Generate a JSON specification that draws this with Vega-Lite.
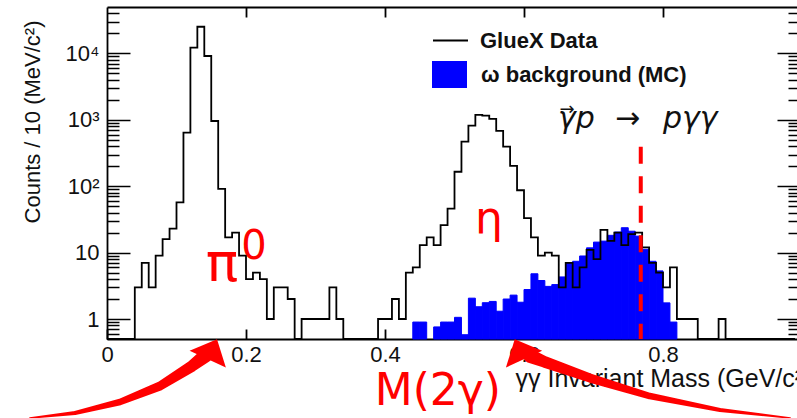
{
  "$schema": "https://vega.github.io/schema/vega-lite/v6.json",
  "width": 690,
  "height": 332,
  "autosize": {"type": "none"},
  "padding": {"left": 107, "top": 7, "right": 0, "bottom": 79},
  "background": "white",
  "config": {
    "view": {"stroke": null},
    "font": "Liberation Sans",
    "axis": {"grid": false, "labelFont": "Liberation Sans", "titleFont": "Liberation Sans", "domainColor": "black", "tickColor": "black", "labelColor": "#111", "titleColor": "#111"}
  },
  "datasets": {
    "hist": [
      {"lo": 0.00, "n": 0}, {"lo": 0.01, "n": 0}, {"lo": 0.02, "n": 0}, {"lo": 0.03, "n": 0},
      {"lo": 0.04, "n": 3}, {"lo": 0.05, "n": 7}, {"lo": 0.06, "n": 3}, {"lo": 0.07, "n": 9},
      {"lo": 0.08, "n": 16}, {"lo": 0.09, "n": 23}, {"lo": 0.10, "n": 57}, {"lo": 0.11, "n": 640},
      {"lo": 0.12, "n": 12200}, {"lo": 0.13, "n": 25200}, {"lo": 0.14, "n": 9140}, {"lo": 0.15, "n": 960},
      {"lo": 0.16, "n": 91}, {"lo": 0.17, "n": 17}, {"lo": 0.18, "n": 20}, {"lo": 0.19, "n": 9},
      {"lo": 0.20, "n": 4}, {"lo": 0.21, "n": 5}, {"lo": 0.22, "n": 4}, {"lo": 0.23, "n": 1},
      {"lo": 0.24, "n": 3}, {"lo": 0.25, "n": 3}, {"lo": 0.26, "n": 2}, {"lo": 0.27, "n": 0},
      {"lo": 0.28, "n": 1}, {"lo": 0.29, "n": 1}, {"lo": 0.30, "n": 1}, {"lo": 0.31, "n": 1},
      {"lo": 0.32, "n": 3}, {"lo": 0.33, "n": 1}, {"lo": 0.34, "n": 0}, {"lo": 0.35, "n": 0},
      {"lo": 0.36, "n": 0}, {"lo": 0.37, "n": 0}, {"lo": 0.38, "n": 0}, {"lo": 0.39, "n": 1},
      {"lo": 0.40, "n": 1}, {"lo": 0.41, "n": 2}, {"lo": 0.42, "n": 1}, {"lo": 0.43, "n": 5},
      {"lo": 0.44, "n": 6}, {"lo": 0.45, "n": 13}, {"lo": 0.46, "n": 17}, {"lo": 0.47, "n": 13},
      {"lo": 0.48, "n": 26}, {"lo": 0.49, "n": 46}, {"lo": 0.50, "n": 165}, {"lo": 0.51, "n": 470},
      {"lo": 0.52, "n": 820}, {"lo": 0.53, "n": 1190}, {"lo": 0.54, "n": 1160}, {"lo": 0.55, "n": 1030},
      {"lo": 0.56, "n": 680}, {"lo": 0.57, "n": 395}, {"lo": 0.58, "n": 203}, {"lo": 0.59, "n": 87},
      {"lo": 0.60, "n": 33}, {"lo": 0.61, "n": 17}, {"lo": 0.62, "n": 9}, {"lo": 0.63, "n": 10},
      {"lo": 0.64, "n": 9}, {"lo": 0.65, "n": 3}, {"lo": 0.66, "n": 7}, {"lo": 0.67, "n": 3},
      {"lo": 0.68, "n": 6}, {"lo": 0.69, "n": 11}, {"lo": 0.70, "n": 8}, {"lo": 0.71, "n": 22},
      {"lo": 0.72, "n": 15}, {"lo": 0.73, "n": 20}, {"lo": 0.74, "n": 13}, {"lo": 0.75, "n": 19},
      {"lo": 0.76, "n": 20}, {"lo": 0.77, "n": 12}, {"lo": 0.78, "n": 7}, {"lo": 0.79, "n": 5},
      {"lo": 0.80, "n": 3}, {"lo": 0.81, "n": 6}, {"lo": 0.82, "n": 1}, {"lo": 0.83, "n": 1},
      {"lo": 0.84, "n": 1}, {"lo": 0.85, "n": 0}, {"lo": 0.86, "n": 0}, {"lo": 0.87, "n": 0},
      {"lo": 0.88, "n": 1}, {"lo": 0.89, "n": 0}, {"lo": 0.90, "n": 0}, {"lo": 0.91, "n": 0},
      {"lo": 0.92, "n": 0}, {"lo": 0.93, "n": 0}, {"lo": 0.94, "n": 0}, {"lo": 0.95, "n": 0},
      {"lo": 0.96, "n": 0}, {"lo": 0.97, "n": 0}, {"lo": 0.98, "n": 0}, {"lo": 0.99, "n": 0}
    ],
    "mc": [
      {"lo": 0.44, "hi": 0.45, "mc": 0.9}, {"lo": 0.45, "hi": 0.46, "mc": 0.9},
      {"lo": 0.47, "hi": 0.48, "mc": 0.76}, {"lo": 0.48, "hi": 0.49, "mc": 0.9},
      {"lo": 0.49, "hi": 0.50, "mc": 0.9}, {"lo": 0.50, "hi": 0.51, "mc": 1.06},
      {"lo": 0.51, "hi": 0.52, "mc": 0.58}, {"lo": 0.52, "hi": 0.53, "mc": 2.06},
      {"lo": 0.53, "hi": 0.54, "mc": 1.53}, {"lo": 0.54, "hi": 0.55, "mc": 1.76},
      {"lo": 0.55, "hi": 0.56, "mc": 1.84}, {"lo": 0.56, "hi": 0.57, "mc": 1.31},
      {"lo": 0.57, "hi": 0.58, "mc": 2.0}, {"lo": 0.58, "hi": 0.59, "mc": 2.29},
      {"lo": 0.59, "hi": 0.60, "mc": 1.79}, {"lo": 0.60, "hi": 0.61, "mc": 2.78},
      {"lo": 0.61, "hi": 0.62, "mc": 4.8}, {"lo": 0.62, "hi": 0.63, "mc": 3.8},
      {"lo": 0.63, "hi": 0.64, "mc": 3.1}, {"lo": 0.64, "hi": 0.65, "mc": 3.3},
      {"lo": 0.65, "hi": 0.66, "mc": 4.3}, {"lo": 0.66, "hi": 0.67, "mc": 7.0},
      {"lo": 0.67, "hi": 0.68, "mc": 7.4}, {"lo": 0.68, "hi": 0.69, "mc": 8.9},
      {"lo": 0.69, "hi": 0.70, "mc": 11.8}, {"lo": 0.70, "hi": 0.71, "mc": 14.4},
      {"lo": 0.71, "hi": 0.72, "mc": 14.9}, {"lo": 0.72, "hi": 0.73, "mc": 18.2},
      {"lo": 0.73, "hi": 0.74, "mc": 20.4}, {"lo": 0.74, "hi": 0.75, "mc": 23.7},
      {"lo": 0.75, "hi": 0.76, "mc": 21}, {"lo": 0.76, "hi": 0.77, "mc": 17.7},
      {"lo": 0.77, "hi": 0.78, "mc": 11.2}, {"lo": 0.78, "hi": 0.79, "mc": 7.4},
      {"lo": 0.79, "hi": 0.80, "mc": 5.3}, {"lo": 0.80, "hi": 0.81, "mc": 1.75},
      {"lo": 0.81, "hi": 0.82, "mc": 0.9}
    ],
    "arrowL": [
      {"x": -0.111, "y": 0.0323, "i": 0}, {"x": -0.046, "y": 0.0384, "i": 1},
      {"x": 0.0187, "y": 0.0562, "i": 2}, {"x": 0.0763, "y": 0.098, "i": 3},
      {"x": 0.1223, "y": 0.196, "i": 4}, {"x": 0.141, "y": 0.277, "i": 5}
    ],
    "arrowR": [
      {"x": 0.983, "y": 0.0323, "i": 0}, {"x": 0.882, "y": 0.0426, "i": 1},
      {"x": 0.781, "y": 0.0692, "i": 2}, {"x": 0.695, "y": 0.129, "i": 3},
      {"x": 0.630, "y": 0.225, "i": 4}, {"x": 0.609, "y": 0.277, "i": 5}
    ],
    "reaction": [
      {"t": "γp", "x": 0.649, "y": 753},
      {"t": "→", "x": 0.731, "y": 753},
      {"t": "pγγ", "x": 0.800, "y": 753}
    ]
  },
  "resolve": {"scale": {"y": "independent"}, "axis": {"x": "independent", "y": "independent"}},
  "layer": [
    {
      "data": {"name": "mc"},
      "mark": {"type": "rect", "stroke": "#0000ff", "strokeWidth": 1},
      "encoding": {
        "x": {"field": "lo", "type": "quantitative", "scale": {"domain": [0, 0.9928], "nice": false, "zero": false},
          "axis": {"orient": "bottom", "values": [0, 0.2, 0.4, 0.6, 0.8], "labelExpr": "datum.value == 0 ? '0' : format(datum.value, '.1f')",
            "labelFlush": false, "tickSize": -10, "tickWidth": 1.8, "domainWidth": 1.8, "labelFontSize": 22, "labelPadding": 15,
            "title": "γγ Invariant Mass (GeV/c²)", "titleFontSize": 25, "titleFontWeight": "normal",
            "titleX": 408, "titleY": 47, "titleAlign": "left", "titleBaseline": "alphabetic", "titleAnchor": "start"}},
        "x2": {"field": "hi"},
        "y": {"field": "mc", "type": "quantitative", "scale": {"type": "log", "domain": [0.5, 50000], "nice": false},
          "axis": {"orient": "left", "values": [1, 10, 100, 1000, 10000],
            "labelExpr": "datum.value == 1 ? '1' : datum.value == 10 ? '10' : datum.value == 100 ? '10²' : datum.value == 1000 ? '10³' : '10⁴'",
            "tickSize": -23, "tickWidth": 1.5, "domainWidth": 1.8, "labelFontSize": 22, "labelPadding": 31,
            "title": "Counts / 10 (MeV/c²)", "titleFontSize": 22, "titleFontWeight": "normal",
            "titleX": -75, "titleY": 13, "titleAlign": "right", "titleBaseline": "middle", "titleAngle": -90}},
        "y2": {"datum": 0.5},
        "fill": {"datum": "ω background (MC)", "type": "nominal", "scale": {"range": ["#0000ff"]},
          "legend": {"orient": "none", "legendX": 325, "legendY": 50, "title": null, "padding": 0,
            "symbolType": "M-1,-0.77H1V0.77H-1Z", "symbolSize": 1225, "symbolStrokeWidth": 0,
            "labelFontSize": 22, "labelFontWeight": "bold", "labelFont": "Liberation Sans", "labelColor": "#111", "labelOffset": 14, "labelLimit": 400}}
      }
    },
    {
      "data": {"name": "hist"},
      "mark": {"type": "line", "interpolate": "step-after", "strokeWidth": 1.8},
      "encoding": {
        "x": {"field": "lo", "type": "quantitative", "scale": {"domain": [0, 0.9928], "nice": false, "zero": false},
          "axis": {"orient": "top", "values": [0.2, 0.4, 0.6, 0.8], "labels": false, "tickSize": -10, "tickWidth": 1.8, "domainWidth": 1.8, "title": null}},
        "y": {"field": "n", "type": "quantitative", "scale": {"type": "log", "domain": [0.5, 50000], "nice": false, "clamp": true},
          "axis": {"orient": "left", "values": [0.6, 0.7, 0.8, 0.9, 2, 3, 4, 5, 6, 7, 8, 9, 20, 30, 40, 50, 60, 70, 80, 90, 200, 300, 400, 500, 600, 700, 800, 900, 2000, 3000, 4000, 5000, 6000, 7000, 8000, 9000, 20000, 30000, 40000],
            "labels": false, "domain": false, "tickSize": -12, "tickWidth": 1.5, "title": null}},
        "stroke": {"datum": "GlueX Data", "type": "nominal", "scale": {"range": ["black"]},
          "legend": {"orient": "none", "legendX": 325, "legendY": 15, "title": null, "padding": 0,
            "symbolType": "stroke", "symbolSize": 1225, "symbolStrokeWidth": 1.8, "symbolStrokeColor": "black",
            "labelFontSize": 22, "labelFontWeight": "bold", "labelFont": "Liberation Sans", "labelColor": "#111", "labelOffset": 11, "labelLimit": 400}}
      }
    },
    {
      "data": {"values": [{"m": 0.768, "top": 394, "base": 0.5}]},
      "mark": {"type": "rule", "color": "#ff0000", "strokeWidth": 4, "strokeDash": [17, 12.5]},
      "encoding": {
        "x": {"field": "m", "type": "quantitative", "scale": {"domain": [0, 0.9928], "nice": false, "zero": false}, "axis": null},
        "y": {"field": "top", "type": "quantitative", "scale": {"type": "log", "domain": [0.5, 50000], "nice": false},
          "axis": {"orient": "right", "values": [1, 10, 100, 1000, 10000], "labels": false, "domain": false, "tickSize": -20, "tickWidth": 1.5, "title": null}},
        "y2": {"field": "base"}
      }
    },
    {
      "data": {"name": "reaction"},
      "mark": {"type": "text", "font": "DejaVu Sans", "fontStyle": "italic", "fontSize": 30, "align": "left", "baseline": "alphabetic", "color": "#111"},
      "encoding": {
        "x": {"field": "x", "type": "quantitative", "scale": {"domain": [0, 0.9928], "nice": false, "zero": false}, "axis": null},
        "y": {"field": "y", "type": "quantitative", "scale": {"type": "log", "domain": [0.5, 50000], "nice": false},
          "axis": {"orient": "right", "values": [0.6, 0.7, 0.8, 0.9, 2, 3, 4, 5, 6, 7, 8, 9, 20, 30, 40, 50, 60, 70, 80, 90, 200, 300, 400, 500, 600, 700, 800, 900, 2000, 3000, 4000, 5000, 6000, 7000, 8000, 9000, 20000, 30000, 40000],
            "labels": false, "domain": false, "tickSize": -9, "tickWidth": 1.5, "title": null}},
        "text": {"field": "t"}
      }
    },
    {
      "data": {"values": [{}]},
      "mark": {"type": "text", "text": "→", "font": "DejaVu Sans", "fontSize": 18, "align": "center", "baseline": "middle", "color": "#111"},
      "encoding": {
        "x": {"datum": 0.662, "type": "quantitative", "scale": {"domain": [0, 0.9928], "nice": false, "zero": false}, "axis": null},
        "y": {"datum": 1405, "type": "quantitative", "scale": {"type": "log", "domain": [0.5, 50000], "nice": false}, "axis": null}
      }
    },
    {
      "data": {"values": [{}]},
      "mark": {"type": "text", "text": "π", "font": "DejaVu Sans", "fontSize": 54, "align": "center", "baseline": "middle", "color": "#ff0000"},
      "encoding": {
        "x": {"datum": 0.1655, "type": "quantitative", "scale": {"domain": [0, 0.9928], "nice": false, "zero": false}, "axis": null},
        "y": {"datum": 6.5, "type": "quantitative", "scale": {"type": "log", "domain": [0.5, 50000], "nice": false}, "axis": null}
      }
    },
    {
      "data": {"values": [{}]},
      "mark": {"type": "text", "text": "0", "font": "DejaVu Sans", "fontSize": 40, "align": "center", "baseline": "middle", "color": "#ff0000"},
      "encoding": {
        "x": {"datum": 0.2115, "type": "quantitative", "scale": {"domain": [0, 0.9928], "nice": false, "zero": false}, "axis": null},
        "y": {"datum": 12.1, "type": "quantitative", "scale": {"type": "log", "domain": [0.5, 50000], "nice": false}, "axis": null}
      }
    },
    {
      "data": {"values": [{}]},
      "mark": {"type": "text", "text": "η", "font": "DejaVu Sans", "fontSize": 44, "align": "center", "baseline": "middle", "color": "#ff0000"},
      "encoding": {
        "x": {"datum": 0.5496, "type": "quantitative", "scale": {"domain": [0, 0.9928], "nice": false, "zero": false}, "axis": null},
        "y": {"datum": 31, "type": "quantitative", "scale": {"type": "log", "domain": [0.5, 50000], "nice": false}, "axis": null}
      }
    },
    {
      "data": {"values": [{}]},
      "mark": {"type": "text", "text": "M(2γ)", "font": "DejaVu Sans", "fontSize": 44, "align": "center", "baseline": "middle", "color": "#ff0000"},
      "encoding": {
        "x": {"datum": 0.476, "type": "quantitative", "scale": {"domain": [0, 0.9928], "nice": false, "zero": false}, "axis": null},
        "y": {"datum": 0.079, "type": "quantitative", "scale": {"type": "log", "domain": [0.5, 50000], "nice": false}, "axis": null}
      }
    },
    {
      "data": {"name": "arrowL"},
      "mark": {"type": "trail", "color": "#ff0000"},
      "encoding": {
        "x": {"field": "x", "type": "quantitative", "scale": {"domain": [0, 0.9928], "nice": false, "zero": false}, "axis": null},
        "y": {"field": "y", "type": "quantitative", "scale": {"type": "log", "domain": [0.5, 50000], "nice": false}, "axis": null},
        "order": {"field": "i"},
        "size": {"field": "i", "type": "quantitative", "scale": {"domain": [0, 5], "range": [1.5, 14]}, "legend": null}
      }
    },
    {
      "data": {"name": "arrowR"},
      "mark": {"type": "trail", "color": "#ff0000"},
      "encoding": {
        "x": {"field": "x", "type": "quantitative", "scale": {"domain": [0, 0.9928], "nice": false, "zero": false}, "axis": null},
        "y": {"field": "y", "type": "quantitative", "scale": {"type": "log", "domain": [0.5, 50000], "nice": false}, "axis": null},
        "order": {"field": "i"},
        "size": {"field": "i", "type": "quantitative", "scale": {"domain": [0, 5], "range": [1.5, 14]}, "legend": null}
      }
    },
    {
      "data": {"values": [{}]},
      "mark": {"type": "point", "shape": "M0,-0.6L1,0.5L-1,0.5Z", "filled": true, "color": "#ff0000", "opacity": 1, "size": 1600, "angle": 25},
      "encoding": {
        "x": {"datum": 0.151, "type": "quantitative", "scale": {"domain": [0, 0.9928], "nice": false, "zero": false}, "axis": null},
        "y": {"datum": 0.341, "type": "quantitative", "scale": {"type": "log", "domain": [0.5, 50000], "nice": false}, "axis": null}
      }
    },
    {
      "data": {"values": [{}]},
      "mark": {"type": "point", "shape": "M0,-0.6L1,0.5L-1,0.5Z", "filled": true, "color": "#ff0000", "opacity": 1, "size": 1600, "angle": -25},
      "encoding": {
        "x": {"datum": 0.594, "type": "quantitative", "scale": {"domain": [0, 0.9928], "nice": false, "zero": false}, "axis": null},
        "y": {"datum": 0.341, "type": "quantitative", "scale": {"type": "log", "domain": [0.5, 50000], "nice": false}, "axis": null}
      }
    }
  ]
}
